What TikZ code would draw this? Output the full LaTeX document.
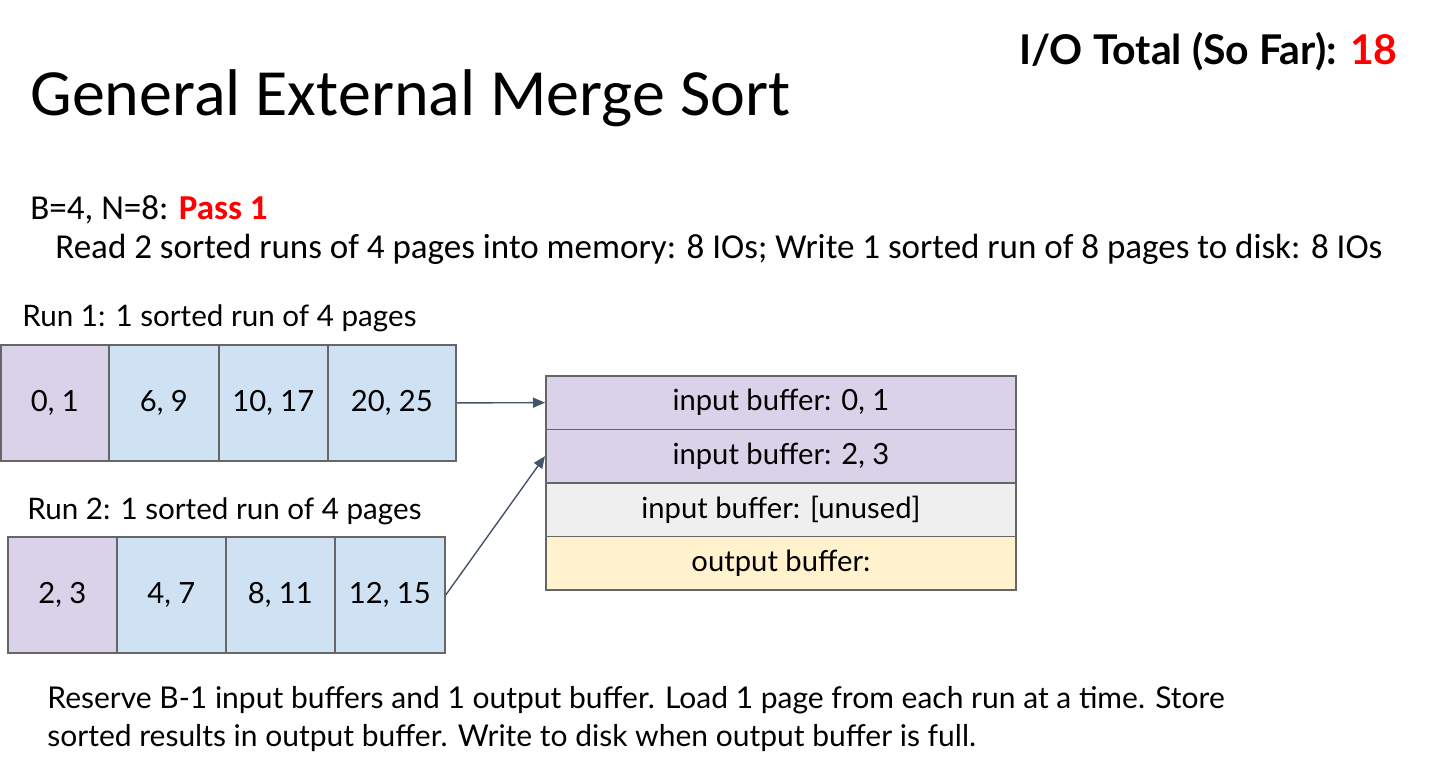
\documentclass[tikz,border=0pt]{standalone}
\usepackage{fontspec}
\setmainfont{Carlito}
\newfontfamily\uifont{Lato}
\usetikzlibrary{arrows.meta}
\definecolor{cellpurple}{HTML}{D9D2E9}
\definecolor{cellblue}{HTML}{CFE2F3}
\definecolor{cellgray}{HTML}{EFEFEF}
\definecolor{cellyellow}{HTML}{FFF2CC}
\definecolor{edgegray}{HTML}{666666}
\definecolor{arrowslate}{HTML}{44546A}
\definecolor{hotred}{HTML}{FF0000}
\begin{document}
\begin{tikzpicture}[x=0.5pt,y=-0.5pt,
  cell/.style={draw=edgegray,line width=0.9pt,font=\uifont\fontsize{14.6}{17}\selectfont,inner sep=0pt},
  link/.style={draw=arrowslate,line width=0.7pt,-{Triangle[length=6pt,width=5pt]}},
  txt/.style={inner sep=0pt,anchor=base west}]
\useasboundingbox[fill=white] (0,0) rectangle (1440,770);

% headings
\node[txt,font=\fontsize{33}{38}\selectfont] (title) at (30,116) {General External Merge Sort};
\node[txt,anchor=base east,font=\uifont\bfseries\fontsize{20.5}{24}\selectfont] (total) at (1398,65) {I/O Total (So Far): \textcolor{hotred}{18}};
\node[txt,font=\fontsize{17.5}{20}\selectfont] (pass) at (30,220) {B=4, N=8: \textcolor{hotred}{\bfseries Pass 1}};
\node[txt,font=\fontsize{17.5}{20}\selectfont] (read) at (55,259) {Read 2 sorted runs of 4 pages into memory: 8 IOs; Write 1 sorted run of 8 pages to disk: 8 IOs};

% run 1
\node[txt,font=\uifont\fontsize{14.8}{17}\selectfont] (lab1) at (22,327) {Run 1: 1 sorted run of 4 pages};
\node[cell,fill=cellpurple,minimum width=108pt*0.5,minimum height=116pt*0.5,anchor=north west] (r1a) at (0,344) {0, 1};
\node[cell,fill=cellblue,minimum width=110pt*0.5,minimum height=116pt*0.5,anchor=north west] (r1b) at (108,344) {6, 9};
\node[cell,fill=cellblue,minimum width=109pt*0.5,minimum height=116pt*0.5,anchor=north west] (r1c) at (218,344) {10, 17};
\node[cell,fill=cellblue,minimum width=128pt*0.5,minimum height=116pt*0.5,anchor=north west] (r1d) at (327,344) {20, 25};

% run 2
\node[txt,font=\uifont\fontsize{14.8}{17}\selectfont] (lab2) at (27,519) {Run 2: 1 sorted run of 4 pages};
\node[cell,fill=cellpurple,minimum width=109pt*0.5,minimum height=116pt*0.5,anchor=north west] (r2a) at (7,536) {2, 3};
\node[cell,fill=cellblue,minimum width=109pt*0.5,minimum height=116pt*0.5,anchor=north west] (r2b) at (116,536) {4, 7};
\node[cell,fill=cellblue,minimum width=109pt*0.5,minimum height=116pt*0.5,anchor=north west] (r2c) at (225,536) {8, 11};
\node[cell,fill=cellblue,minimum width=110pt*0.5,minimum height=116pt*0.5,anchor=north west] (r2d) at (334,536) {12, 15};

% memory buffers
\node[cell,fill=cellpurple,minimum width=470pt*0.5,minimum height=53.5pt*0.5,anchor=north west] (buf1) at (545,375) {input buffer: 0, 1};
\node[cell,fill=cellpurple,minimum width=470pt*0.5,minimum height=53.5pt*0.5,anchor=north west] (buf2) at (545,428.5) {input buffer: 2, 3};
\node[cell,fill=cellgray,minimum width=470pt*0.5,minimum height=53.5pt*0.5,anchor=north west] (buf3) at (545,482) {input buffer: [unused]};
\node[cell,fill=cellyellow,minimum width=470pt*0.5,minimum height=53.5pt*0.5,anchor=north west] (buf4) at (545,535.5) {output buffer:};

% loading pages into the input buffers
\draw[link] (r1d.east) -- (buf1.west);
\draw[link] (r2d.east) -- (buf2.west);

% explanation
\node[txt,font=\uifont\fontsize{15}{18}\selectfont,align=left,anchor=north west] (note) at (47,686) {Reserve B-1 input buffers and 1 output buffer. Load 1 page from each run at a time. Store\\[1pt] sorted results in output buffer. Write to disk when output buffer is full.};
\end{tikzpicture}
\end{document}
